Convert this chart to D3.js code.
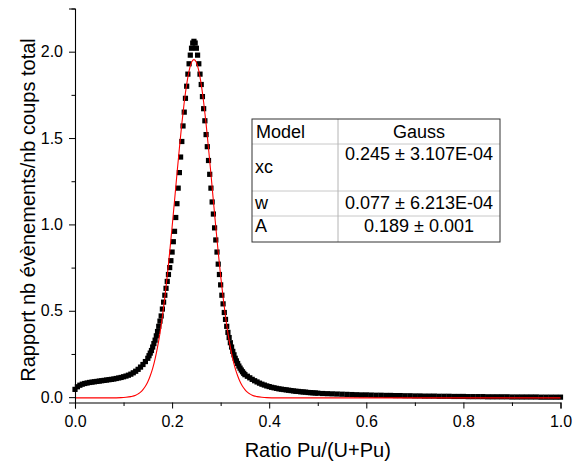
<!DOCTYPE html>
<html>
<head>
<meta charset="utf-8">
<script src="https://cdn.jsdelivr.net/npm/d3@7"></script>
<style>
  html, body { margin: 0; padding: 0; background: #fff; }
  svg { display: block; font-family: "Liberation Sans", Arial, sans-serif; }
</style>
</head>
<body>
<svg id="chart" width="581" height="468"></svg>
<script>
// ---------- data ----------
const xTicks = [0.0, 0.2, 0.4, 0.6, 0.8, 1.0];
const xMinorTicks = [0.1, 0.3, 0.5, 0.7, 0.9];
const yTicks = [0.0, 0.5, 1.0, 1.5, 2.0];
const yMinorTicks = [0.25, 0.75, 1.25, 1.75, 2.25];

// measured ratio distribution (black squares)
const measuredX = [
  0.000,0.005,0.010,0.015,0.020,0.025,0.030,0.035,0.040,0.045,
  0.050,0.055,0.060,0.065,0.070,0.075,0.080,0.085,0.090,0.095,
  0.100,0.105,0.110,0.115,0.120,0.125,0.130,0.135,0.140,0.145,
  0.1500,0.1525,0.1550,0.1575,0.1600,0.1625,0.1650,0.1675,0.1700,0.1725,
  0.1750,0.1775,0.1800,0.1825,0.1850,0.1875,0.1900,0.1925,0.1950,0.1975,
  0.2000,0.2025,0.2050,0.2075,0.2100,0.2125,0.2150,0.2175,0.2200,0.2225,
  0.2250,0.2275,0.2300,0.2325,0.2350,0.2375,0.2400,0.2425,0.2450,0.2475,
  0.2500,0.2525,0.2550,0.2575,0.2600,0.2625,0.2650,0.2675,0.2700,0.2725,
  0.2750,0.2775,0.2800,0.2825,0.2850,0.2875,0.2900,0.2925,0.2950,0.2975,
  0.3000,0.3025,0.3050,0.3075,0.3100,0.3125,0.3150,0.3175,0.3200,0.3225,
  0.3250,0.3275,0.3300,0.3325,0.3350,0.3375,0.3400,0.3425,0.3450,0.3475,
  0.350,0.355,0.360,0.365,0.370,0.375,0.380,0.385,0.390,0.395,
  0.400,0.405,0.410,0.415,0.420,0.425,0.430,0.435,0.440,0.445,
  0.450,0.455,0.460,0.465,0.470,0.475,0.480,0.485,0.490,0.495,
  0.50,0.51,0.52,0.53,0.54,0.55,0.56,0.57,0.58,0.59,
  0.60,0.61,0.62,0.63,0.64,0.65,0.66,0.67,0.68,0.69,
  0.70,0.71,0.72,0.73,0.74,0.75,0.76,0.77,0.78,0.79,
  0.80,0.81,0.82,0.83,0.84,0.85,0.86,0.87,0.88,0.89,
  0.90,0.91,0.92,0.93,0.94,0.95,0.96,0.97,0.98,0.99,1.00
];
const measuredY = [
  0.045,0.060,0.069,0.075,0.079,0.082,0.085,0.087,0.089,0.091,
  0.093,0.095,0.097,0.099,0.101,0.103,0.105,0.108,0.111,0.114,
  0.118,0.122,0.127,0.133,0.141,0.150,0.161,0.174,0.189,0.206,
  0.225,0.240,0.255,0.270,0.290,0.310,0.330,0.355,0.380,0.410,
  0.440,0.470,0.510,0.550,0.590,0.630,0.670,0.710,0.750,0.790,
  0.840,0.900,0.960,1.040,1.120,1.210,1.300,1.390,1.480,1.570,
  1.650,1.730,1.800,1.870,1.930,1.980,2.020,2.050,2.060,2.050,
  2.020,1.980,1.930,1.870,1.810,1.740,1.670,1.600,1.520,1.450,
  1.370,1.290,1.210,1.130,1.060,0.980,0.910,0.840,0.770,0.710,
  0.650,0.590,0.540,0.490,0.450,0.410,0.375,0.345,0.315,0.290,
  0.265,0.245,0.225,0.210,0.195,0.180,0.168,0.157,0.147,0.138,
  0.130,0.121,0.112,0.103,0.095,0.088,0.081,0.075,0.070,0.065,
  0.061,0.057,0.054,0.051,0.048,0.046,0.044,0.042,0.040,0.038,
  0.036,0.034,0.033,0.031,0.030,0.029,0.027,0.026,0.025,0.024,
  0.023,0.021,0.020,0.019,0.018,0.017,0.016,0.015,0.014,0.013,
  0.013,0.012,0.011,0.011,0.010,0.010,0.009,0.009,0.008,0.008,
  0.007,0.007,0.006,0.006,0.006,0.005,0.005,0.005,0.004,0.004,
  0.004,0.003,0.003,0.003,0.003,0.002,0.002,0.002,0.002,0.002,
  0.001,0.001,0.001,0.001,0.001,0.001,0.000,0.000,0.000,0.000,0.000
];

// Gauss fit curve (red line)
const fitX = [
  0.000,0.075,0.095,0.105,0.115,0.125,0.130,0.135,0.140,0.145,
  0.150,0.155,0.160,0.165,0.170,0.175,0.180,0.185,0.190,0.195,
  0.200,0.205,0.210,0.215,0.220,0.225,0.230,0.235,0.240,0.245,
  0.250,0.255,0.260,0.265,0.270,0.275,0.280,0.285,0.290,0.295,
  0.300,0.305,0.310,0.315,0.320,0.325,0.330,0.335,0.340,0.345,
  0.350,0.355,0.360,0.365,0.375,0.385,0.395,0.415,1.000
];
const fitY = [
  -0.004,-0.004,-0.003,-0.001,0.003,0.011,0.019,0.029,0.044,0.063,
  0.089,0.124,0.167,0.222,0.289,0.371,0.467,0.578,0.702,0.839,
  0.985,1.137,1.292,1.441,1.582,1.707,1.811,1.889,1.938,1.954,
  1.938,1.889,1.811,1.707,1.582,1.441,1.292,1.137,0.985,0.839,
  0.702,0.578,0.467,0.371,0.289,0.222,0.167,0.124,0.089,0.063,
  0.044,0.029,0.019,0.011,0.003,-0.001,-0.003,-0.004,-0.004
];

// fit parameter table
const tableHeader = ["Model", "Gauss"];
const tableParams = ["xc", "w", "A"];
const tableValues = ["0.245 \u00b1 3.107E-04", "0.077 \u00b1 6.213E-04", "0.189 \u00b1 0.001"];

const xLabel = "Ratio Pu/(U+Pu)";
const yLabel = "Rapport nb \u00e9v\u00e8nements/nb coups total";

// ---------- layout ----------
const svg = d3.select("#chart");
const plotLeft = 75, plotRight = 560.5, plotTop = 8.5, plotBottom = 402.5;

const x = d3.scaleLinear().domain([0, 1]).range([plotLeft, plotRight]);
const y = d3.scaleLinear().domain([-0.031, 2.25]).range([plotBottom, plotTop]);

// ---------- data marks ----------
const pts = measuredX.map((d, i) => ({ x: d, y: measuredY[i] }));
svg.append("g").selectAll("rect").data(pts).join("rect")
  .attr("x", d => x(d.x) - 2.6)
  .attr("y", d => y(d.y) - 2.6)
  .attr("width", 5.2).attr("height", 5.2)
  .attr("fill", "#000");

const fit = fitX.map((d, i) => ({ x: d, y: fitY[i] }));
svg.append("path").datum(fit)
  .attr("fill", "none").attr("stroke", "#ff0000").attr("stroke-width", 1.1)
  .attr("d", d3.line().x(d => x(d.x)).y(d => y(d.y)).curve(d3.curveMonotoneX));

// ---------- axes ----------
const fmt = d3.format(".1f");
const xAxisG = svg.append("g").attr("transform", `translate(0,${plotBottom})`);
xAxisG.call(d3.axisBottom(x).tickValues(xTicks).tickFormat(fmt).tickSizeOuter(0).tickSize(6).tickPadding(7));
xAxisG.append("g").call(d3.axisBottom(x).tickValues(xMinorTicks).tickFormat("").tickSizeOuter(0).tickSize(3.5))
  .select(".domain").remove();

const yAxisG = svg.append("g").attr("transform", `translate(${plotLeft},0)`);
yAxisG.call(d3.axisLeft(y).tickValues(yTicks).tickFormat(fmt).tickSizeOuter(0).tickSize(6).tickPadding(6));
yAxisG.append("g").call(d3.axisLeft(y).tickValues(yMinorTicks).tickFormat("").tickSizeOuter(0).tickSize(3.5))
  .select(".domain").remove();

svg.selectAll(".domain").attr("stroke", "#000").attr("stroke-width", 1.1);
svg.selectAll(".tick line").attr("stroke", "#000").attr("stroke-width", 1);
svg.selectAll(".tick text")
  .attr("font-family", "Liberation Sans, Arial, sans-serif")
  .attr("font-size", 16).attr("fill", "#000");

svg.append("text")
  .attr("x", (plotLeft + plotRight) / 2).attr("y", 457)
  .attr("text-anchor", "middle").attr("font-size", 20).attr("fill", "#000")
  .text(xLabel);

svg.append("text")
  .attr("transform", `translate(35,210) rotate(-90)`)
  .attr("text-anchor", "middle").attr("font-size", 20).attr("fill", "#000")
  .text(yLabel);

// ---------- fit table ----------
const tL = 252, tR = 500, tT = 119, tB = 242, tSplit = 338;
const rowLines = [144, 191, 216];
const tg = svg.append("g");
tg.append("rect").attr("x", tL).attr("y", tT).attr("width", tR - tL).attr("height", tB - tT)
  .attr("fill", "#fff").attr("stroke", "none");
rowLines.forEach(ry => {
  tg.append("line").attr("x1", tL).attr("x2", tR).attr("y1", ry).attr("y2", ry)
    .attr("stroke", "#c8c8c8").attr("stroke-width", 1);
});
tg.append("line").attr("x1", tSplit).attr("x2", tSplit).attr("y1", tT).attr("y2", tB)
  .attr("stroke", "#b4b4b4").attr("stroke-width", 1);
tg.append("rect").attr("x", tL).attr("y", tT).attr("width", tR - tL).attr("height", tB - tT)
  .attr("fill", "none").attr("stroke", "#333").attr("stroke-width", 1);

const fs = 18;
const colMid = (tSplit + tR) / 2;
tg.append("text").attr("x", tL + 4).attr("y", 138).attr("font-size", fs).text(tableHeader[0]);
tg.append("text").attr("x", colMid).attr("y", 138).attr("font-size", fs).attr("text-anchor", "middle").text(tableHeader[1]);
const paramBase = [173, 209, 232];
const valueBase = [160, 209, 232];
tableParams.forEach((p, i) => {
  tg.append("text").attr("x", tL + 3).attr("y", paramBase[i]).attr("font-size", fs).text(p);
  tg.append("text").attr("x", colMid).attr("y", valueBase[i]).attr("font-size", fs)
    .attr("text-anchor", "middle").text(tableValues[i]);
});
</script>
</body>
</html>
